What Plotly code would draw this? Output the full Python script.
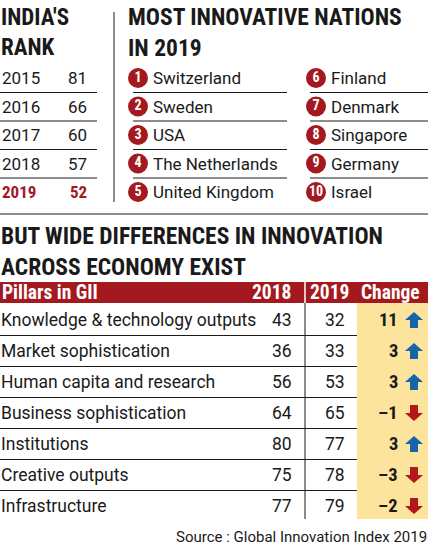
import plotly.graph_objects as go

# ---------------- data ----------------
years = ["2015", "2016", "2017", "2018", "2019"]
india_rank = [81, 66, 60, 57, 52]

nations = ["Switzerland", "Sweden", "USA", "The Netherlands", "United Kingdom",
           "Finland", "Denmark", "Singapore", "Germany", "Israel"]

pillars = ["Knowledge & technology outputs", "Market sophistication",
           "Human capita and research", "Business sophistication",
           "Institutions", "Creative outputs", "Infrastructure"]
rank_2018 = [43, 36, 56, 64, 80, 75, 77]
rank_2019 = [32, 33, 53, 65, 77, 78, 79]
change = [11, 3, 3, -1, 3, -3, -2]

source = "Source : Global Innovation Index 2019"

# ---------------- style ----------------
W, H = 439, 551
RED = "#a3191f"
YELLOW = "#fde49c"
BLUE = "#1565a8"
ARROW_RED = "#b3161b"
TXT = "#1a1a1a"
FB = "Roboto, sans-serif"                 # body
FH = "Roboto Condensed, sans-serif"       # headings / bold

fig = go.Figure()
ann = []
shapes = []


def text(x, y, s, size=16, color=TXT, anchor="left", bold=False, fam=None):
    ann.append(dict(x=x, y=y, xref="x", yref="y", text=(f"<b>{s}</b>" if bold else s),
                    showarrow=False, xanchor=anchor, yanchor="middle", borderpad=0,
                    align=anchor if anchor in ("left", "right") else "center",
                    font=dict(family=fam or (FH if bold else FB), size=size, color=color)))


def line(x0, y0, x1, y1, color=TXT, width=1):
    shapes.append(dict(type="line", xref="x", yref="y", x0=x0, y0=y0, x1=x1, y1=y1,
                       line=dict(color=color, width=width), layer="above"))


# ---------- India's rank panel ----------
text(0, 32, "<b>INDIA'S<br>RANK</b>", size=23, fam=FH)
top_y0, top_dy = 78, 28.5
for i, (yr, rk) in enumerate(zip(years, india_rank)):
    y = top_y0 + i * top_dy
    last = i == len(years) - 1
    col = RED if last else TXT
    text(1, y, yr, size=17, color=col, bold=last, fam=FH if last else None)
    text(88, y, str(rk), size=17, color=col, bold=last, anchor="right", fam=FH if last else None)
    if not last:
        line(0, y + 14.5, 97, y + 14.5)

line(114, 12, 114, 202)

# ---------- Most innovative nations panel ----------
text(127, 32, "<b>MOST INNOVATIVE NATIONS<br>IN 2019</b>", size=23.5, fam=FH)
cx, cy, nums = [], [], []
for i, n in enumerate(nations):
    col = i // 5
    row = i % 5
    y = top_y0 + row * top_dy
    xc = 138 if col == 0 else 316
    cx.append(xc)
    cy.append(y)
    nums.append(str(i + 1))
    text(xc + 14, y, n, size=17)
    if row < 4:
        if col == 0:
            line(133, y + 14.5, 287, y + 14.5)
        else:
            line(310, y + 14.5, 428, y + 14.5)

fig.add_trace(go.Scatter(x=cx, y=cy, mode="markers+text", text=nums,
                         textposition="middle center",
                         textfont=dict(family=FH, size=14, color="white", weight="bold"),
                         marker=dict(size=20, color=RED, line=dict(width=0)),
                         hoverinfo="skip", showlegend=False))

line(0, 214, 428, 214)

# ---------- second section ----------
text(0, 251, "<b>BUT WIDE DIFFERENCES IN INNOVATION<br>ACROSS ECONOMY EXIST</b>", size=23.5, fam=FH)

# header bar
shapes.append(dict(type="rect", xref="x", yref="y", x0=0, x1=428, y0=282, y1=303,
                   fillcolor=RED, line=dict(width=0), layer="below"))
# yellow change column
t_y0, t_dy = 320, 31
t_bottom = t_y0 + (len(pillars) - 1) * t_dy + 13
shapes.append(dict(type="rect", xref="x", yref="y", x0=357, x1=428, y0=303, y1=t_bottom,
                   fillcolor=YELLOW, line=dict(width=0), layer="below"))
line(305, 282, 305, 303, color="white", width=1.5)
line(305, 303, 305, t_bottom)

text(1, 292.5, "Pillars in GII", size=19.5, color="white", bold=True)
text(292, 292.5, "2018", size=19.5, color="white", bold=True, anchor="right")
text(309, 292.5, "2019", size=19.5, color="white", bold=True)
text(421, 292.5, "Change", size=19.5, color="white", bold=True, anchor="right")

for i, p in enumerate(pillars):
    y = t_y0 + i * t_dy
    text(0, y, p, size=17.5)
    text(293, y, str(rank_2018[i]), size=17.5, anchor="right")
    text(346, y, str(rank_2019[i]), size=17.5, anchor="right")
    c = change[i]
    text(399, y, str(c).replace("-", "\u2013"), size=18.5, bold=True, anchor="right")
    if i < len(pillars) - 1:
        line(0, y + 15.5, 357, y + 15.5)
    # arrow
    xc = 414
    if c > 0:
        path = (f"M {xc-9} {y} L {xc} {y-8} L {xc+9} {y} L {xc+4} {y} L {xc+4} {y+8} "
                f"L {xc-4} {y+8} L {xc-4} {y} Z")
        colr = BLUE
    else:
        path = (f"M {xc-9} {y} L {xc} {y+8} L {xc+9} {y} L {xc+4} {y} L {xc+4} {y-8} "
                f"L {xc-4} {y-8} L {xc-4} {y} Z")
        colr = ARROW_RED
    shapes.append(dict(type="path", xref="x", yref="y", path=path,
                       fillcolor=colr, line=dict(width=0), layer="above"))

text(428, 537, source, size=15, anchor="right")

fig.update_layout(
    width=W, height=H,
    margin=dict(l=0, r=0, t=0, b=0),
    paper_bgcolor="white", plot_bgcolor="white",
    xaxis=dict(range=[0, W], visible=False, fixedrange=True),
    yaxis=dict(range=[H, 0], visible=False, fixedrange=True),
    annotations=ann, shapes=shapes,
    showlegend=False,
)
fig.write_html("out.html", config={"displayModeBar": False},
               post_script="document.body.style.margin='0';document.body.style.overflow='hidden';")
